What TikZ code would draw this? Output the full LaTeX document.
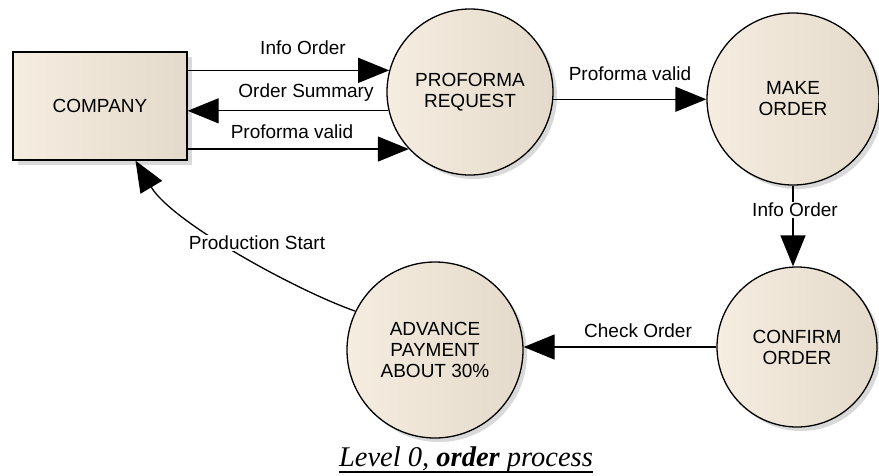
\documentclass[tikz,border=0pt]{standalone}
\usepackage{fontspec}
\setmainfont{Liberation Sans}
\newfontfamily\capfont{Liberation Serif}
\usetikzlibrary{arrows.meta,shadows,calc}
\definecolor{creamL}{RGB}{245,237,224}
\definecolor{creamM}{RGB}{249,242,231}
\definecolor{creamR}{RGB}{228,218,203}
\definecolor{shade}{RGB}{160,160,160}
\tikzset{
  txt/.style={font=\fontsize{19}{21}\selectfont, align=center},
  proc/.style={circle, draw=black, line width=1.3pt, inner sep=0pt, txt,
    left color=creamL, middle color=creamM, right color=creamR,
    drop shadow={shadow xshift=4pt, shadow yshift=-4pt, fill=shade, opacity=0.4}},
  entity/.style={rectangle, draw=black, line width=1.3pt, inner sep=0pt, txt,
    minimum width=174pt, minimum height=108pt,
    left color=creamL, middle color=creamM, right color=creamR,
    drop shadow={shadow xshift=5pt, shadow yshift=-5pt, fill=shade, opacity=0.4}},
  flow/.style={line width=1.3pt, -{Triangle[length=31pt,width=25pt]}},
  lbl/.style={txt, inner sep=1pt},
}
\begin{document}
\begin{tikzpicture}[x=1pt,y=-1pt]
\useasboundingbox (0,0) rectangle (879,475);
\node[entity] (company) at (100,106) {COMPANY};
\node[proc, minimum size=166pt] (proforma) at (470,92) {PROFORMA\\REQUEST};
\node[proc, minimum size=172pt] (make) at (793,99) {MAKE\\ORDER};
\node[proc, minimum size=160pt] (confirm) at (797,347) {CONFIRM\\ORDER};
\node[proc, minimum size=176pt] (advance) at (435,350) {ADVANCE\\PAYMENT\\ABOUT 30\%};

% company <-> proforma
\draw[flow] (company.east |- proforma.165) -- (proforma.165);
\draw[flow] (proforma.193) -- (company.east |- proforma.193);
\draw[flow] (company.east |- proforma.223) -- (proforma.223);
\node[lbl] (l1) at (303,48) {Info Order};
\node[lbl] (l2) at (306,93) {Order Summary};
\node[lbl] (l3) at (292,132) {Proforma valid};

% proforma -> make
\draw[flow] (proforma.-5.5) -- (make.west |- proforma.-5.5);
\node[lbl] (l4) at (630,74) {Proforma valid};

% make -> confirm
\draw[flow] (make.south) -- (make.south |- confirm.north);
\node[lbl, fill=white] (l5) at (795,210) {Info Order};

% confirm -> advance
\draw[flow] (confirm.west) -- (advance.east |- confirm.west);
\node[lbl] (l6) at (638,331) {Check Order};

% advance -> company
\draw[flow] (advance.154) .. controls (295,290) and (172,222) .. (company.-57);
\node[lbl, fill=white] (l7) at (257,243) {Production Start};

% caption
\node[inner sep=0pt, anchor=base, font=\capfont\fontsize{28.5}{30}\selectfont\itshape] (cap) at (466,466) {Level 0, \textbf{order} process};
\draw[line width=1.5pt] ([yshift=-6pt]cap.base west) -- ([yshift=-6pt]cap.base east);
\end{tikzpicture}
\end{document}
